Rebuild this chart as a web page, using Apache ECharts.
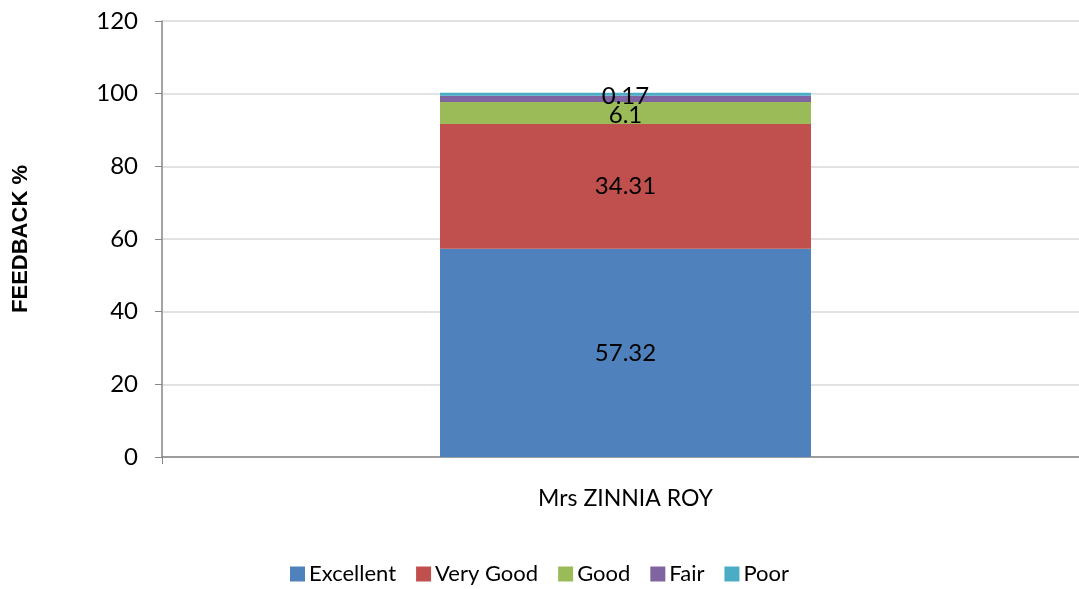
<!DOCTYPE html>
<html><head><meta charset="utf-8">
<script src="https://cdn.jsdelivr.net/npm/echarts@6/dist/echarts.min.js"></script>
<style>html,body{margin:0;padding:0;background:#fff}#c{width:1079px;height:589px}</style>
</head><body><div id="c"></div>
<script>
var categories = ['Mrs ZINNIA ROY'];
var seriesNames = ['Excellent', 'Very Good', 'Good', 'Fair', 'Poor'];
var excellent = [57.32];
var veryGood = [34.31];
var good = [6.1];
var fair = [1.7];
var poor = [0.17];
var showLabel = [true, true, true, false, true];
var colors = ['#4F81BD', '#C0504D', '#9BBB59', '#8064A2', '#4BACC6'];
var yTicks = [0, 20, 40, 60, 80, 100, 120];

var values = [excellent, veryGood, good, fair, poor];
var font = 'Lato, "Open Sans", sans-serif';
var chart = echarts.init(document.getElementById('c'));
chart.setOption({
  animation: false,
  grid: {left: 162, width: 927, top: 21, bottom: 132, outerBoundsMode: 'none'},
  legend: {
    bottom: -1, left: 'center', itemWidth: 15, itemHeight: 15, itemGap: 20,
    icon: 'rect',
    textStyle: {fontFamily: font, fontSize: 22, color: '#000', padding: [0, 0, 0, -1]},
    data: seriesNames
  },
  xAxis: {
    type: 'category', data: categories,
    axisLine: {lineStyle: {color: '#868686', width: 1.5}},
    axisTick: {show: true, length: 7, lineStyle: {color: '#868686'}},
    axisLabel: {fontFamily: font, fontSize: 23, color: '#000', margin: 30}
  },
  yAxis: {
    type: 'value', min: yTicks[0], max: yTicks[yTicks.length - 1], interval: 20,
    name: 'FEEDBACK %', nameLocation: 'middle', nameGap: 130, nameRotate: 90,
    nameTextStyle: {fontFamily: '"Liberation Sans", Arial, sans-serif', fontWeight: 'bold', fontSize: 22, color: '#000'},
    axisLine: {show: true, lineStyle: {color: '#868686', width: 1.5}},
    axisTick: {show: true, length: 7, inside: false, lineStyle: {color: '#868686'}},
    axisLabel: {fontFamily: font, fontSize: 24, color: '#000', margin: 24},
    splitLine: {lineStyle: {color: '#d9d9d9', width: 1.5}}
  },
  series: seriesNames.map(function (n, i) {
    return {
      name: n, type: 'bar', stack: 'total', barWidth: 371,
      barMinHeight: i === 4 ? 3 : 0,
      data: values[i],
      itemStyle: {color: colors[i]},
      label: {
        show: showLabel[i], position: 'inside',
        fontFamily: font, fontSize: 24, color: '#000',
        offset: i === 2 ? [0, 2] : (i === 4 ? [0, 2] : [0, 0])
      }
    };
  })
});
</script></body></html>
